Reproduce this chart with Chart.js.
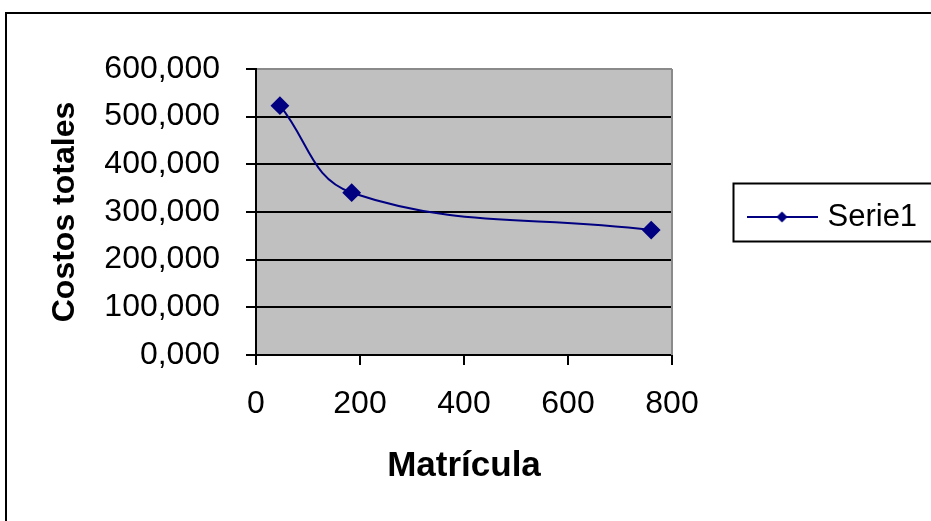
<!DOCTYPE html>
<html><head><meta charset="utf-8">
<script src="https://cdn.jsdelivr.net/npm/chart.js@4.4.1/dist/chart.umd.min.js"></script>
<style>html,body{margin:0;padding:0;background:#fff;overflow:hidden}#wrap{width:931px;height:521px;position:relative}</style>
</head><body><div id="wrap"><canvas id="c" width="931" height="521"></canvas></div>
<script>
const matricula = [46, 184, 760];
const costosTotales = [523000, 340500, 262000];
const seriesName = 'Serie1';
const xTickLabels = ['0', '200', '400', '600', '800'];
const yTickLabels = ['0,000', '100,000', '200,000', '300,000', '400,000', '500,000', '600,000'];
const xTitle = 'Matrícula';
const yTitle = 'Costos totales';

const NAVY = '#000080';
const tickFamily = '"Liberation Sans", Arial, sans-serif';
const titleFamily = '"Liberation Sans", Arial, sans-serif';

// legend symbol: line with diamond
const legendImg = document.createElement('canvas');
legendImg.width = 71; legendImg.height = 14;
(function () {
  const g = legendImg.getContext('2d');
  g.strokeStyle = NAVY; g.lineWidth = 2;
  g.beginPath(); g.moveTo(0, 7); g.lineTo(71, 7); g.stroke();
  g.fillStyle = NAVY;
  g.beginPath(); g.moveTo(35.5, 1.5); g.lineTo(41, 7); g.lineTo(35.5, 12.5); g.lineTo(30, 7); g.closePath(); g.fill();
})();

const decor = {
  id: 'decor',
  afterInit(chart) {
    const lg = chart.legend;
    if (lg) {
      const orig = lg.fit.bind(lg);
      lg.fit = function () { orig(); this.width = 259; };
    }
  },
  afterLayout(chart) {
    const lg = chart.legend;
    if (lg) { lg.top += 5; lg.bottom += 5; }
  },
  beforeDraw(chart) {
    const {ctx, chartArea: a} = chart;
    ctx.save();
    ctx.fillStyle = '#fff';
    ctx.fillRect(0, 0, chart.width, chart.height);
    ctx.fillStyle = '#C0C0C0';
    ctx.fillRect(a.left, a.top, a.right - a.left, a.bottom - a.top);
    ctx.strokeStyle = '#000';
    ctx.lineWidth = 2;
    ctx.strokeRect(6, 13, 1200, 1200);
    ctx.restore();
  },
  beforeDatasetsDraw(chart) {
    const {ctx, chartArea: a} = chart;
    ctx.save();
    ctx.strokeStyle = '#8a8a8a';
    ctx.lineWidth = 2;
    ctx.beginPath(); ctx.moveTo(a.right, a.top); ctx.lineTo(a.right, a.bottom); ctx.stroke();
    ctx.restore();
  },
  afterDraw(chart) {
    const lg = chart.legend;
    if (!lg || !lg.legendHitBoxes || !lg.legendHitBoxes.length) return;
    const hb = lg.legendHitBoxes[0];
    const cy = hb.top + hb.height / 2;
    const ctx = chart.ctx;
    ctx.save();
    ctx.strokeStyle = '#000';
    ctx.lineWidth = 2;
    ctx.strokeRect(hb.left - 18.5, cy - 33.5, 400, 58);
    ctx.restore();
  }
};

new Chart(document.getElementById('c'), {
  type: 'line',
  data: {
    datasets: [{
      label: seriesName,
      data: matricula.map((x, i) => ({x: x, y: costosTotales[i]})),
      borderColor: NAVY,
      backgroundColor: NAVY,
      borderWidth: 2,
      tension: 0.4,
      pointStyle: 'rectRot',
      pointRadius: 8,
      pointHoverRadius: 8,
      pointBackgroundColor: NAVY,
      pointBorderColor: NAVY,
      fill: false
    }]
  },
  options: {
    responsive: false,
    animation: false,
    devicePixelRatio: 1,
    layout: {padding: {top: 69, left: 0, right: 0, bottom: 0}},
    plugins: {
      legend: {
        display: true,
        position: 'right',
        align: 'center',
        fullSize: false,
        labels: {
          usePointStyle: true,
          pointStyle: legendImg,
          pointStyleWidth: 60,
          padding: 80,
          color: '#000',
          font: {family: titleFamily, size: 31}
        }
      },
      tooltip: {enabled: false}
    },
    scales: {
      x: {
        type: 'linear',
        min: 0, max: 800,
        afterFit(s) { s.height = 166; },
        ticks: {
          stepSize: 200,
          color: '#000',
          padding: 20,
          maxRotation: 0,
          font: {family: tickFamily, size: 32},
          callback: (v, i) => xTickLabels[i]
        },
        grid: {drawOnChartArea: false, color: '#000', lineWidth: 2, tickLength: 10},
        border: {display: true, color: '#000', width: 2},
        title: {
          display: true, text: xTitle, color: '#000',
          font: {family: titleFamily, size: 35, weight: 'bold'},
          padding: {top: 0, bottom: 34}
        }
      },
      y: {
        type: 'linear',
        min: 0, max: 600000,
        afterFit(s) { s.width = 256; },
        ticks: {
          stepSize: 100000,
          color: '#000',
          padding: 26,
          font: {family: tickFamily, size: 32},
          callback: (v, i) => yTickLabels[i]
        },
        grid: {
          color: (c) => (c.tick && c.tick.value === 600000) ? '#8a8a8a' : '#000',
          tickColor: '#000',
          lineWidth: 2,
          tickLength: 10
        },
        border: {display: true, color: '#000', width: 2},
        title: {
          display: true, text: yTitle, color: '#000',
          font: {family: titleFamily, size: 32, weight: 'bold'},
          padding: {top: 46, bottom: 0}
        }
      }
    }
  },
  plugins: [decor]
});
</script>
</body></html>
